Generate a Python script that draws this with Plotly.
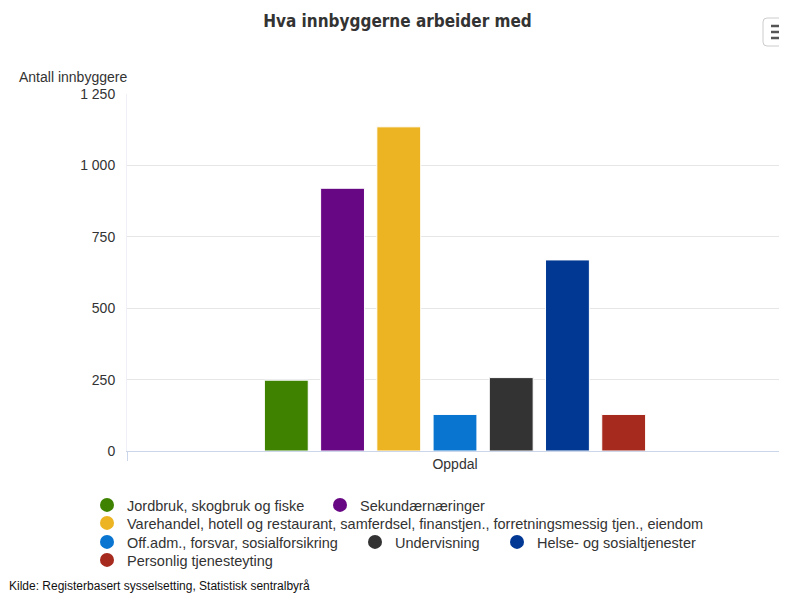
import plotly.graph_objects as go

categories = ["Oppdal"]
series_names = [
    "Jordbruk, skogbruk og fiske",
    "Sekundærnæringer",
    "Varehandel, hotell og restaurant, samferdsel, finanstjen., forretningsmessig tjen., eiendom",
    "Off.adm., forsvar, sosialforsikring",
    "Undervisning",
    "Helse- og sosialtjenester",
    "Personlig tjenesteyting",
]
series_values = [248, 920, 1135, 128, 257, 669, 128]
series_colors = ["#3e8200", "#680784", "#ecb422", "#0975d0", "#333333", "#003893", "#a62a1e"]
y_ticks = [0, 250, 500, 750, 1000, 1250]

# legend entry placement (screenshot pixels: marker centre x, row centre y)
legend_marker_x = [107, 340, 107, 107, 375, 517, 107]
legend_row_y = [504, 504, 522, 541, 541, 541, 559]

OFF = 8  # page body margin of the browser
W, H = 787 - OFF, 595 - OFF
SL, SR, ST, SB = 127, 783, 94, 451  # plot area bounds in screenshot pixels
L, R, T, B = SL - OFF, SR - OFF, ST - OFF, SB - OFF


def px(x):
    """screenshot x pixel -> paper coordinate"""
    return (x - OFF - L) / (R - L)


def py(y):
    """screenshot y pixel -> paper coordinate"""
    return (B - (y - OFF)) / (B - T)


fig = go.Figure()
legend_layouts = {}
for i, (name, val, col) in enumerate(zip(series_names, series_values, series_colors)):
    lg = "legend" if i == 0 else f"legend{i + 1}"
    fig.add_trace(go.Bar(
        x=categories, y=[val], name=name, legendgroup=name, showlegend=False,
        marker=dict(color=col, line=dict(color="white", width=1)),
    ))
    fig.add_trace(go.Scatter(
        x=[None], y=[None], mode="markers", name=name, legendgroup=name, legend=lg,
        marker=dict(color=col, size=14, symbol="circle"),
    ))
    legend_layouts[lg] = dict(
        orientation="h", x=px(legend_marker_x[i] - 20), xanchor="left",
        y=py(legend_row_y[i] - 15), yanchor="top",
        font=dict(size=14.5, color="#333333"), itemsizing="trace",
        bgcolor="rgba(0,0,0,0)",
    )

shapes = [
    dict(type="path", xref="paper", yref="paper",
         path=(f"M {px(767)} {py(18)} L {px(800)} {py(18)} L {px(800)} {py(46)} "
               f"L {px(767)} {py(46)} Q {px(763)} {py(46)} {px(763)} {py(42)} "
               f"L {px(763)} {py(22)} Q {px(763)} {py(18)} {px(767)} {py(18)} Z"),
         line=dict(color="#cccccc", width=1), fillcolor="white", layer="above"),
]
for yy in (26, 32, 38):
    shapes.append(dict(type="line", xref="paper", yref="paper",
                       x0=px(771), x1=px(795), y0=py(yy), y1=py(yy),
                       line=dict(color="#555555", width=2.5), layer="above"))

fig.update_layout(
    width=W, height=H,
    margin=dict(l=L, r=W - R, t=T, b=H - B, autoexpand=False),
    paper_bgcolor="white", plot_bgcolor="white",
    separators=", ",
    barmode="group", bargap=0.4, bargroupgap=0.22,
    title=dict(text="<b>Hva innbyggerne arbeider med</b>", x=0.5, xanchor="center",
               y=1 - (21 - OFF) / H, yanchor="middle",
               font=dict(family="Liberation Sans Narrow, DejaVu Sans Condensed", size=17, color="#333333")),
    font=dict(family="Liberation Sans, Arial, sans-serif", size=14, color="#333333"),
    xaxis=dict(showgrid=False, showline=True, linecolor="#ccd6eb", linewidth=1,
               ticks="outside", tickson="boundaries", ticklen=9, tickcolor="#ccd6eb",
               tickfont=dict(size=14, color="#333333"), fixedrange=True),
    yaxis=dict(range=[0, 1250], tickvals=y_ticks, tickformat=",", showgrid=True,
               gridcolor="#e6e6e6", gridwidth=1, zeroline=False, showline=True,
               linecolor="#eef0f5", linewidth=1,
               tickfont=dict(size=14, color="#333333"), ticklabelstandoff=8),
    shapes=shapes,
    annotations=[
        dict(text="Antall innbyggere", xref="paper", yref="paper", x=px(17), y=py(77),
             xanchor="left", yanchor="middle", showarrow=False,
             font=dict(size=14, color="#333333")),
        dict(text="Kilde: Registerbasert sysselsetting, Statistisk sentralbyrå",
             xref="paper", yref="paper", x=px(7), y=py(586), xanchor="left", yanchor="middle",
             showarrow=False,
             font=dict(family="Liberation Sans Narrow, Arial", size=12, color="#111111")),
    ],
    **legend_layouts,
)

fig.write_html("out.html")
